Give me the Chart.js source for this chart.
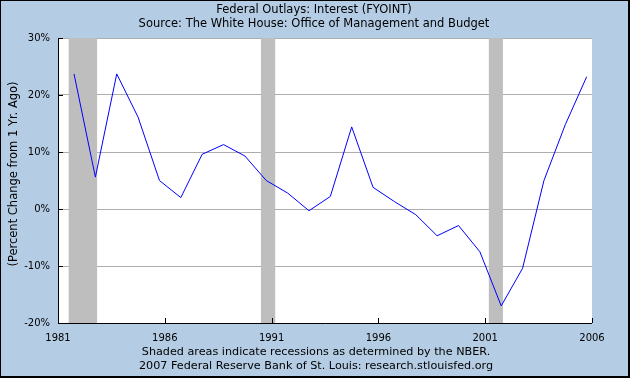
<!DOCTYPE html>
<html>
<head>
<meta charset="utf-8">
<script src="https://cdn.jsdelivr.net/npm/chart.js@4.4.1/dist/chart.umd.min.js"></script>
<style>
  html, body { margin: 0; padding: 0; background: #b4cde5; }
  #wrap { width: 630px; height: 378px; position: relative; }
</style>
</head>
<body>
<div id="wrap"><canvas id="c" width="630" height="378"></canvas></div>
<script>
// ---- Data ----
const fiscalYears = [1982, 1983, 1984, 1985, 1986, 1987, 1988, 1989, 1990, 1991,
                     1992, 1993, 1994, 1995, 1996, 1997, 1998, 1999, 2000, 2001,
                     2002, 2003, 2004, 2005, 2006];
const pctChange = [23.7, 5.6, 23.7, 16.1, 5.0, 2.0, 9.6, 11.3, 9.3, 5.0,
                   2.8, -0.3, 2.2, 14.4, 3.8, 1.3, -1.0, -4.7, -2.9, -7.5,
                   -17.0, -10.4, 5.0, 14.8, 23.2];
const recessionStarts = [1981.5, 1990.5, 2001.17];
const recessionEnds   = [1982.83, 1991.17, 2001.83];
const xTickLabels = ['1981', '1986', '1991', '1996', '2001', '2006'];
const yTickLabels = ['-20%', '-10%', '0%', '10%', '20%', '30%'];

const titleLines = ['Federal Outlays: Interest (FYOINT)',
                    'Source: The White House: Office of Management and Budget'];
const footLines = ['Shaded areas indicate recessions as determined by the NBER.',
                   '2007 Federal Reserve Bank of St. Louis: research.stlouisfed.org'];
const yTitle = '(Percent Change from 1 Yr. Ago)';

// fiscal year plotted at its start (October 1 of the previous calendar year)
const points = fiscalYears.map((fy, i) => ({ x: fy - 1 + 0.75, y: pctChange[i] }));

const BG = '#b4cde5';
const FONT = '"DejaVu Sans", Verdana, sans-serif';

const decor = {
  id: 'decor',
  beforeDraw(chart) {
    const { ctx, chartArea: a } = chart;
    ctx.save();
    ctx.fillStyle = BG;
    ctx.fillRect(0, 0, chart.width, chart.height);
    ctx.fillStyle = '#ffffff';
    ctx.fillRect(a.left, a.top, a.right - a.left, a.bottom - a.top);
    ctx.restore();
  },
  beforeDatasetsDraw(chart) {
    const { ctx, chartArea: a, scales: { x, y } } = chart;
    ctx.save();
    // recession shading
    ctx.fillStyle = '#bebebe';
    recessionStarts.forEach((s, i) => {
      const x0 = x.getPixelForValue(s), x1 = x.getPixelForValue(recessionEnds[i]);
      ctx.fillRect(x0, a.top, x1 - x0, a.bottom - a.top);
    });
    // axes
    ctx.strokeStyle = '#000000';
    ctx.lineWidth = 1;
    ctx.beginPath();
    ctx.moveTo(Math.round(a.left) + 0.5, a.top);
    ctx.lineTo(Math.round(a.left) + 0.5, Math.round(a.bottom) + 0.5);
    ctx.lineTo(a.right, Math.round(a.bottom) + 0.5);
    // inward ticks
    y.ticks.forEach(t => {
      const py = Math.round(y.getPixelForValue(t.value)) + 0.5;
      ctx.moveTo(a.left, py); ctx.lineTo(a.left + 5, py);
    });
    x.ticks.forEach(t => {
      const px = Math.round(x.getPixelForValue(t.value)) + 0.5;
      ctx.moveTo(px, a.bottom); ctx.lineTo(px, a.bottom - 5);
    });
    ctx.stroke();
    ctx.restore();
  },
  afterDraw(chart) {
    const { ctx } = chart;
    ctx.save();
    ctx.fillStyle = '#000000';
    ctx.textAlign = 'center';
    ctx.textBaseline = 'middle';
    ctx.font = '11.5px ' + FONT;
    ctx.fillText(titleLines[0], 314, 10);
    ctx.fillText(titleLines[1], 314, 24);
    ctx.font = '11.2px ' + FONT;
    ctx.fillText(footLines[0], 316, 352);
    ctx.fillText(footLines[1], 316, 366);
    ctx.font = '11.5px ' + FONT;
    ctx.translate(14, 174);
    ctx.rotate(-Math.PI / 2);
    ctx.fillText(yTitle, 0, 0);
    ctx.restore();
    // outer border
    ctx.save();
    ctx.fillStyle = '#000000';
    ctx.fillRect(0, 0, chart.width, 1);
    ctx.fillRect(0, 0, 1, chart.height);
    ctx.fillRect(chart.width - 2, 0, 2, chart.height);
    ctx.fillRect(0, chart.height - 2, chart.width, 2);
    ctx.restore();
  }
};

new Chart(document.getElementById('c'), {
  type: 'line',
  data: {
    datasets: [{
      data: points,
      borderColor: '#0000ff',
      borderWidth: 1,
      pointRadius: 0,
      tension: 0,
      fill: false
    }]
  },
  options: {
    responsive: false,
    animation: false,
    events: [],
    layout: { padding: { left: 0, right: 38, top: 38, bottom: 0 } },
    plugins: { legend: { display: false }, tooltip: { enabled: false }, title: { display: false } },
    scales: {
      x: {
        type: 'linear',
        min: 1981, max: 2006,
        border: { display: false },
        grid: { display: false, drawTicks: false },
        ticks: {
          stepSize: 5,
          padding: 9,
          color: '#000000',
          font: { family: FONT, size: 10 },
          maxRotation: 0,
          callback: (v) => xTickLabels[Math.round((v - 1981) / 5)]
        },
        afterFit: (s) => { s.height = 55; }
      },
      y: {
        min: -20, max: 30,
        border: { display: false },
        grid: { color: '#adadad', lineWidth: 1, drawTicks: false },
        ticks: {
          stepSize: 10,
          padding: 8,
          color: '#000000',
          font: { family: FONT, size: 10 },
          callback: (v) => yTickLabels[Math.round((v + 20) / 10)]
        },
        afterFit: (s) => { s.width = 58; }
      }
    }
  },
  plugins: [decor]
});
</script>
</body>
</html>
